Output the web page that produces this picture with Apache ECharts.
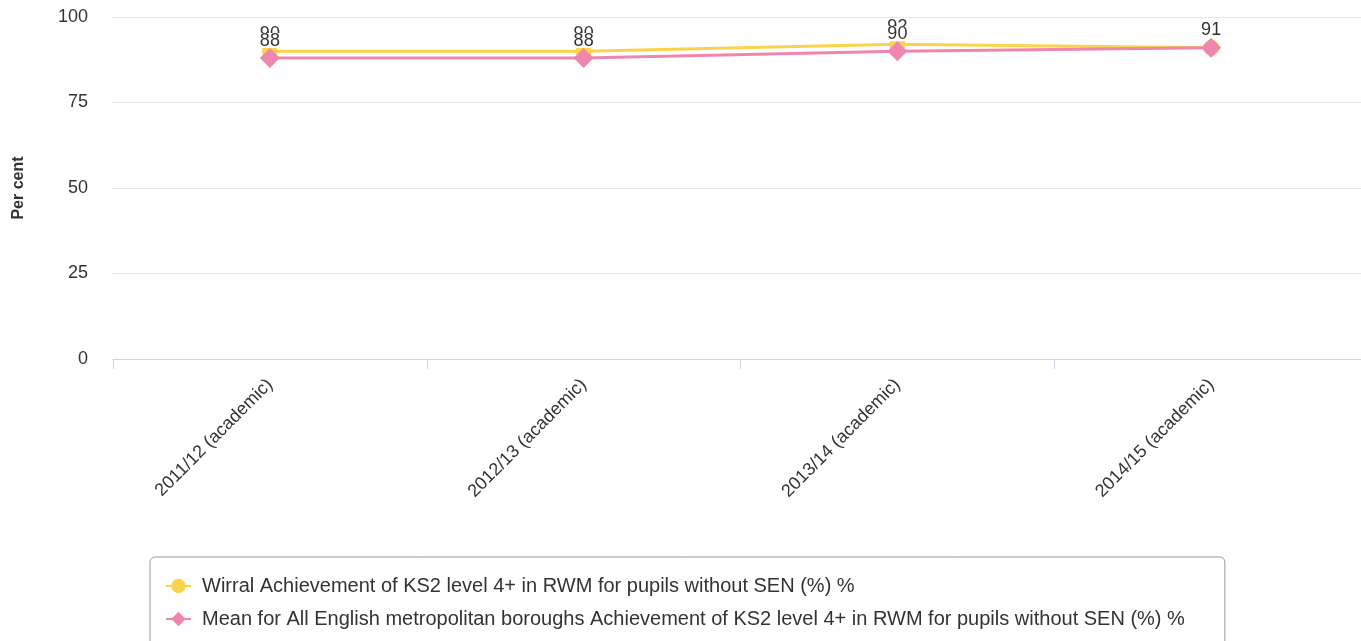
<!DOCTYPE html>
<html>
<head>
<meta charset="utf-8">
<script src="https://cdn.jsdelivr.net/npm/echarts@6/dist/echarts.min.js"></script>
<style>html,body{margin:0;padding:0;background:#fff}#c{width:1361px;height:641px}</style>
</head>
<body>
<div id="c"></div>
<script>
const categories = ['2011/12 (academic)', '2012/13 (academic)', '2013/14 (academic)', '2014/15 (academic)'];
const wirralValues = [90, 90, 92, 91];
const meanValues = [88, 88, 90, 91];
const yTicks = [0, 25, 50, 75, 100];
const seriesNames = [
  'Wirral Achievement of KS2 level 4+ in RWM for pupils without SEN (%) %',
  'Mean for All English metropolitan boroughs Achievement of KS2 level 4+ in RWM for pupils without SEN (%) %'
];
const FONT = '"Liberation Sans", Arial, sans-serif';
const chart = echarts.init(document.getElementById('c'), null, {renderer: 'canvas'});
const lbl = (d) => ({
  show: true, position: 'top', distance: d, color: '#333', fontSize: 18, fontFamily: FONT,
  backgroundColor: '#fff', padding: 0, lineHeight: 15
});
chart.setOption({
  animation: false,
  backgroundColor: '#fff',
  grid: {left: 113, right: -7, top: 17, bottom: 282, containLabel: false, outerBoundsMode: 'none'},
  xAxis: {
    type: 'category', data: categories, boundaryGap: true,
    axisLine: {lineStyle: {color: '#ccd6eb', width: 1}},
    axisTick: {show: true, length: 10, lineStyle: {color: '#ccd6eb'}},
    axisLabel: {rotate: 45, margin: 23, color: '#333', fontSize: 18, fontFamily: FONT, interval: 0},
    splitLine: {show: false}
  },
  yAxis: {
    type: 'value', min: yTicks[0], max: yTicks[yTicks.length - 1], interval: 25,
    name: 'Per cent', nameLocation: 'middle', nameGap: 86, nameRotate: 90, nameMoveOverlap: false,
    nameTextStyle: {fontSize: 16, fontWeight: 'bold', color: '#333', fontFamily: FONT},
    axisLine: {show: false}, axisTick: {show: false},
    axisLabel: {margin: 25, color: '#333', fontSize: 18, fontFamily: FONT},
    splitLine: {lineStyle: {color: '#e6e6e6'}}
  },
  legend: {
    orient: 'vertical', left: 150, top: 557, height: 300,
    borderColor: '#999', borderWidth: 1, borderRadius: 5,
    padding: [19, 40, 20, 15],
    itemWidth: 25, itemHeight: 18, itemGap: 13,
    textStyle: {fontSize: 20, lineHeight: 18, color: '#333', fontFamily: FONT, padding: [0, 0, 0, 6]},
    data: seriesNames
  },
  series: [
    {
      name: seriesNames[0], type: 'line', data: wirralValues,
      symbol: 'circle', symbolSize: 16,
      lineStyle: {color: '#FCD24C', width: 3},
      itemStyle: {color: '#FCD24C'},
      label: lbl(2)
    },
    {
      name: seriesNames[1], type: 'line', data: meanValues,
      symbol: 'diamond', symbolSize: 20,
      lineStyle: {color: '#EF86B0', width: 3},
      itemStyle: {color: '#EF86B0'},
      label: lbl(0)
    }
  ]
});
</script>
</body>
</html>
